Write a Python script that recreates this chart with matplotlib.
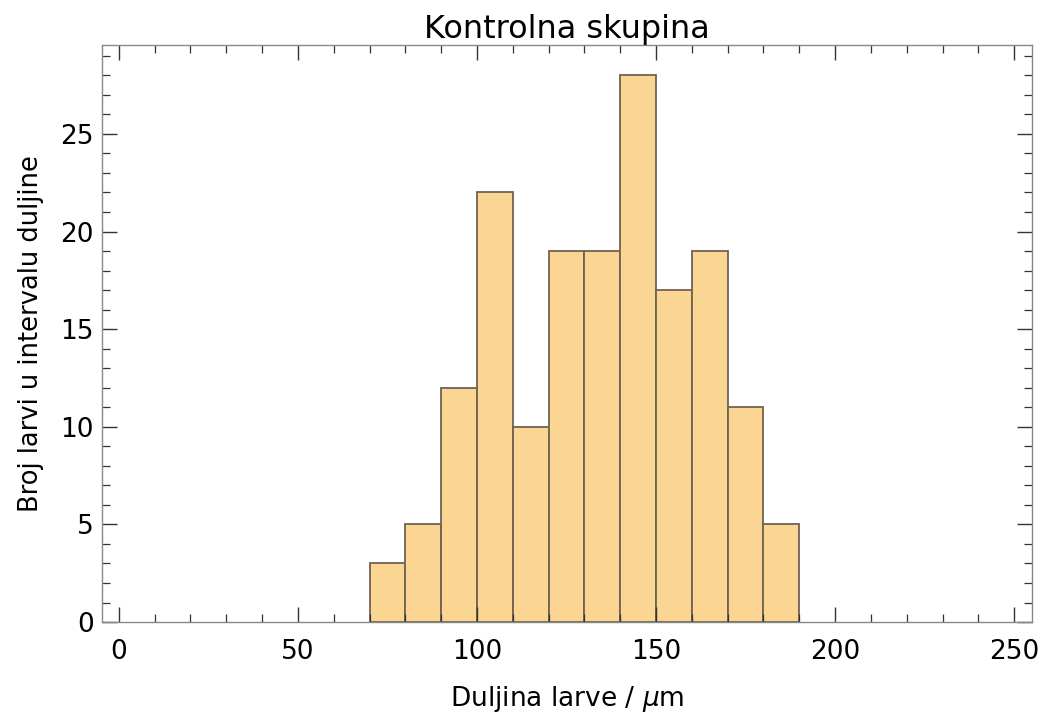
import matplotlib.pyplot as plt
import numpy as np
from matplotlib.ticker import MultipleLocator

# bin edges and counts
bin_edges = [70, 80, 90, 100, 110, 120, 130, 140, 150, 160, 170, 180, 190]
counts = [3, 5, 12, 22, 10, 19, 19, 28, 17, 19, 11, 5]

fig = plt.figure(figsize=(10.43, 7.15), dpi=100)
ax = fig.add_axes([0.0978, 0.130, 0.8917, 0.807])

ax.hist(
    bin_edges[:-1],
    bins=bin_edges,
    weights=counts,
    facecolor="#fbd692",
    edgecolor="#6e6252",
    linewidth=1.3,
)

ax.set_xlim(-4.7, 255)
ax.set_ylim(0, 29.55)

ax.xaxis.set_major_locator(MultipleLocator(50))
ax.xaxis.set_minor_locator(MultipleLocator(10))
ax.yaxis.set_major_locator(MultipleLocator(5))
ax.yaxis.set_minor_locator(MultipleLocator(1))

ax.tick_params(which="both", direction="in", top=True, right=True,
               color="#333333", labelsize=19)
ax.tick_params(axis="x", pad=12)
ax.tick_params(axis="y", pad=6)
ax.tick_params(which="major", length=11, width=1.0)
ax.tick_params(which="minor", length=6, width=0.9)

for s in ax.spines.values():
    s.set_color("#888888")
    s.set_linewidth(1.0)

ax.set_title("Kontrolna skupina", fontsize=23, pad=2)
ax.set_xlabel("Duljina larve / $\\mu$m", fontsize=19, labelpad=14)
ax.set_ylabel("Broj larvi u intervalu duljine", fontsize=18.5, labelpad=12)

fig.savefig("out.png", dpi=100)
